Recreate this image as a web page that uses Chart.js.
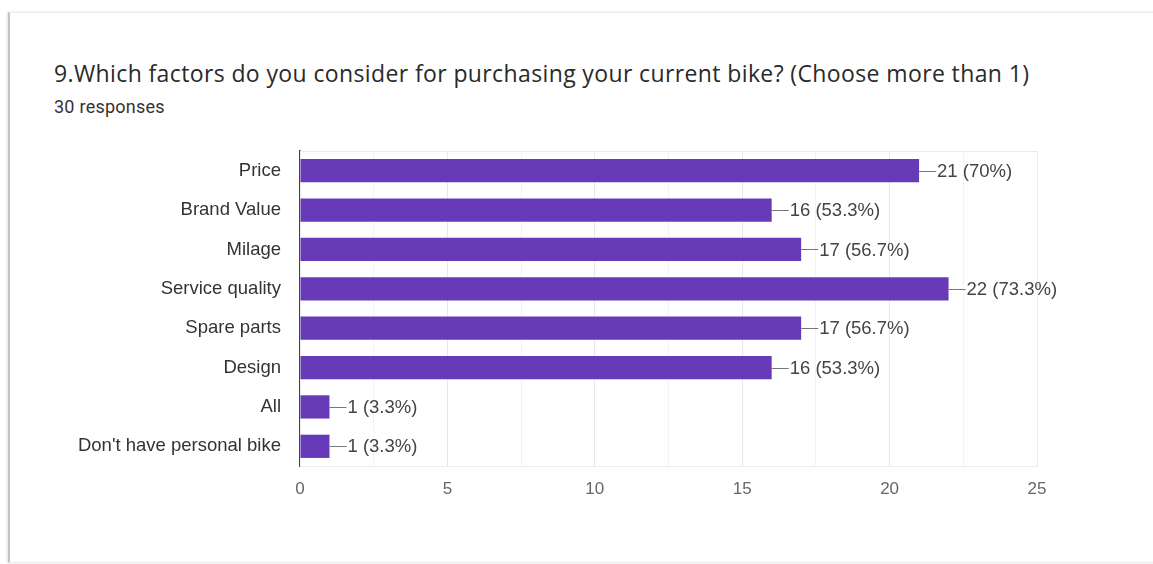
<!DOCTYPE html>
<html>
<head>
<meta charset="utf-8">
<script src="https://cdn.jsdelivr.net/npm/chart.js@4/dist/chart.umd.min.js"></script>
<style>
  html, body { margin: 0; padding: 0; background: #fff; }
  body { width: 1153px; height: 564px; position: relative; overflow: hidden; }
  .card {
    position: absolute; left: 8px; top: 12px; width: 1160px; height: 549px;
    border-left: 2px solid #c4c4c4; border-top: 1px solid #ececec; border-bottom: 1px solid #ececec;
    box-shadow: -1px 0 2px rgba(0,0,0,0.12);
  }
  .title {
    position: absolute; left: 54px; top: 57px; margin: 0;
    font: 400 23px 'Open Sans', sans-serif; letter-spacing: 0.38px;
    color: #2a2a2a; white-space: nowrap;
  }
  .sub {
    position: absolute; left: 54px; top: 96px;
    font: 400 18px Roboto, sans-serif; letter-spacing: 0.25px;
    color: #333; white-space: nowrap;
  }
  #chart { position: absolute; left: 0; top: 0; }
</style>
</head>
<body>
<div class="card"></div>
<h1 class="title">9.Which factors do you consider for purchasing your current bike? (Choose more than 1)</h1>
<div class="sub">30 responses</div>
<canvas id="chart" width="1153" height="564"></canvas>
<script>
  // Answers and counts for question 9
  const categories = [
    "Price",
    "Brand Value",
    "Milage",
    "Service quality",
    "Spare parts",
    "Design",
    "All",
    "Don't have personal bike",
  ];
  const counts = [21, 16, 17, 22, 17, 16, 1, 1];
  const totalResponses = 30;
  const xTicks = [0, 5, 10, 15, 20, 25];

  const PURPLE = "#673ab7";
  const LABEL_FONT = "'Liberation Sans', Arial, sans-serif";

  function pct(v) {
    return Math.round((v * 1000) / totalResponses) / 10 + "%";
  }

  // Light frame around the plot area (top / right / bottom edges).
  const frame = {
    id: "frame",
    beforeDatasetsDraw(chart) {
      const { ctx, chartArea: a } = chart;
      ctx.save();
      ctx.strokeStyle = "#ececec";
      ctx.lineWidth = 1;
      ctx.strokeRect(a.left + 0.5, a.top + 0.5, a.right - a.left, a.bottom - a.top);
      ctx.restore();
    },
  };

  // "—21 (70%)" style annotation after every bar.
  const valueLabels = {
    id: "valueLabels",
    afterDatasetsDraw(chart) {
      const { ctx } = chart;
      const meta = chart.getDatasetMeta(0);
      ctx.save();
      ctx.font = `18.5px ${LABEL_FONT}`;
      ctx.textBaseline = "middle";
      ctx.textAlign = "left";
      meta.data.forEach((el, i) => {
        const v = counts[i];
        ctx.strokeStyle = "#777";
        ctx.lineWidth = 1;
        ctx.beginPath();
        ctx.moveTo(el.x, Math.round(el.y) + 0.5);
        ctx.lineTo(el.x + 17, Math.round(el.y) + 0.5);
        ctx.stroke();
        ctx.fillStyle = "#444";
        ctx.fillText(`${v} (${pct(v)})`, el.x + 18, el.y + 1);
      });
      ctx.restore();
    },
  };

  new Chart(document.getElementById("chart"), {
    type: "bar",
    data: {
      labels: categories,
      datasets: [{
        data: counts,
        backgroundColor: PURPLE,
        borderWidth: 0,
        barPercentage: 0.59,
        categoryPercentage: 1,
      }],
    },
    options: {
      indexAxis: "y",
      responsive: false,
      animation: false,
      layout: { padding: { top: 151, right: 116, left: 0, bottom: 0 } },
      plugins: { legend: { display: false }, tooltip: { enabled: false } },
      scales: {
        x: {
          min: 0,
          max: 25,
          afterBuildTicks(scale) {
            const t = [];
            for (let v = 0; v <= 25; v += 2.5) t.push({ value: v });
            scale.ticks = t;
          },
          afterFit(scale) { scale.height = 98; },
          grid: {
            drawTicks: false,
            color: (c) => (xTicks.includes(c.tick.value) ? "#e8e8e8" : "#f3f3f3"),
          },
          border: { display: false },
          ticks: {
            padding: 13,
            color: "#666",
            font: { family: LABEL_FONT, size: 17 },
            callback: (v) => (xTicks.includes(v) ? String(v) : ""),
          },
        },
        y: {
          afterFit(scale) { scale.width = 300; },
          grid: { display: false, drawTicks: false },
          border: { display: true, color: "#444", width: 1.5 },
          ticks: {
            padding: 19,
            color: "#333",
            font: { family: LABEL_FONT, size: 18.5 },
          },
        },
      },
    },
    plugins: [frame, valueLabels],
  });
</script>
</body>
</html>
